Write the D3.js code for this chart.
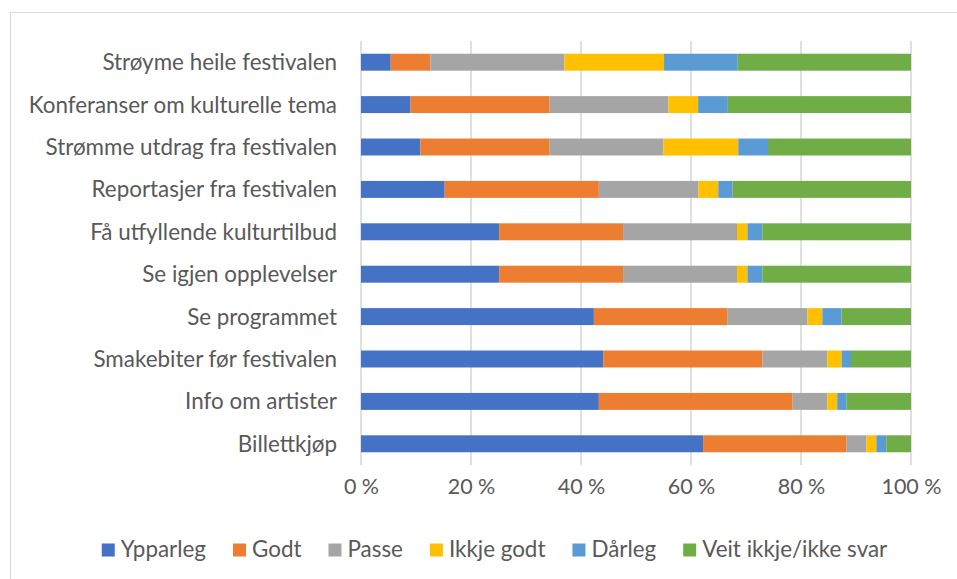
<!DOCTYPE html>
<html>
<head>
<meta charset="utf-8">
<script src="https://cdn.jsdelivr.net/npm/d3@7"></script>
<style>
  html, body { margin: 0; padding: 0; background: #fff; }
  svg text { font-family: Lato, "Open Sans", sans-serif; fill: #595959; }
</style>
</head>
<body>
<svg id="chart" width="957" height="579"></svg>
<script>
'use strict'

// categories, top to bottom
const categories = [
  'Strøyme heile festivalen',
  'Konferanser om kulturelle tema',
  'Strømme utdrag fra festivalen',
  'Reportasjer fra festivalen',
  'Få utfyllende kulturtilbud',
  'Se igjen opplevelser',
  'Se programmet',
  'Smakebiter før festivalen',
  'Info om artister',
  'Billettkjøp'
]

const seriesNames = ['Ypparleg', 'Godt', 'Passe', 'Ikkje godt', 'Dårleg', 'Veit ikkje/ikke svar']

// percent per category (same order as categories)
const ypparleg = [5.4, 9.0, 10.8, 15.2, 25.1, 25.1, 42.3, 44.0, 43.2, 62.2]
const godt = [7.2, 25.3, 23.5, 28.0, 22.5, 22.5, 24.3, 28.9, 35.2, 26.1]
const passe = [24.4, 21.6, 20.7, 18.1, 20.7, 20.7, 14.5, 11.8, 6.3, 3.6]
const ikkjeGodt = [18.1, 5.4, 13.6, 3.6, 1.9, 1.9, 2.7, 2.6, 1.8, 1.8]
const daarleg = [13.4, 5.4, 5.4, 2.6, 2.7, 2.7, 3.5, 1.7, 1.7, 1.8]
const veitIkkje = [31.5, 33.3, 26.0, 32.4, 27.0, 27.0, 12.6, 10.9, 11.7, 4.5]

const tickValues = [0, 0.2, 0.4, 0.6, 0.8, 1]

const colors = ['#4472c4', '#ed7d31', '#a5a5a5', '#ffc000', '#5b9bd5', '#70ad47']

// build table for d3.stack
const seriesValues = [ypparleg, godt, passe, ikkjeGodt, daarleg, veitIkkje]
const table = categories.map((c, i) => {
  const row = { category: c }
  seriesNames.forEach((s, j) => { row[s] = seriesValues[j][i] })
  return row
})

const stacked = d3.stack()
  .keys(seriesNames)
  .offset(d3.stackOffsetExpand)(table)

const svg = d3.select('#chart')
const fontSize = 22.4
const axisFontSize = 21.5

// chart area border (runs off the right and bottom of the picture)
svg.append('rect')
  .attr('x', 10.5).attr('y', 12.5)
  .attr('width', 1000).attr('height', 700)
  .attr('fill', 'none')
  .attr('stroke', '#d9d9d9')
  .attr('stroke-width', 1)

const margin = { top: 41, left: 361, right: 911, bottom: 465 }

const x = d3.scaleLinear().domain([0, 1]).range([margin.left, margin.right])
const y = d3.scaleBand()
  .domain(categories)
  .range([margin.top, margin.bottom])
  .paddingInner(0.6)
  .paddingOuter(0.3)

// gridlines
svg.append('g')
  .selectAll('line')
  .data(tickValues)
  .join('line')
  .attr('x1', d => x(d)).attr('x2', d => x(d))
  .attr('y1', margin.top).attr('y2', margin.bottom)
  .attr('stroke', '#d9d9d9')
  .attr('stroke-width', 1.6)

// bars
svg.append('g')
  .selectAll('g')
  .data(stacked)
  .join('g')
  .attr('fill', (d, i) => colors[i])
  .selectAll('rect')
  .data(d => d)
  .join('rect')
  .attr('x', d => x(d[0]))
  .attr('width', d => x(d[1]) - x(d[0]))
  .attr('y', d => y(d.data.category))
  .attr('height', y.bandwidth())

// category labels
svg.append('g')
  .selectAll('text')
  .data(categories)
  .join('text')
  .attr('x', 337)
  .attr('y', d => y(d) + y.bandwidth() / 2)
  .attr('dy', '0.36em')
  .attr('text-anchor', 'end')
  .style('font-size', fontSize + 'px')
  .text(d => d)

// x axis labels
const xAxis = d3.axisBottom(x)
  .tickValues(tickValues)
  .tickSize(0)
  .tickPadding(0)
  .tickFormat(d => Math.round(d * 100) + '\u00a0%')

const gx = svg.append('g')
  .attr('transform', 'translate(0,' + 494 + ')')
  .call(xAxis)
gx.select('.domain').remove()
gx.selectAll('text')
  .attr('y', 0).attr('dy', 0)
  .attr('fill', '#595959')
  .style('font-family', 'Lato, "Open Sans", sans-serif')
  .style('font-size', axisFontSize + 'px')

// legend
const legend = svg.append('g')
const items = legend.selectAll('g')
  .data(seriesNames)
  .join('g')
items.append('rect')
  .attr('width', 13).attr('height', 13)
  .attr('y', -13)
  .attr('fill', (d, i) => colors[i])
items.append('text')
  .attr('x', 19)
  .attr('y', 0)
  .style('font-size', fontSize + 'px')
  .text(d => d)

let pos = 0
const gap = 27
items.each(function () {
  const w = d3.select(this).select('text').node().getComputedTextLength()
  this.__x = pos
  pos += 19 + w + gap
})
const total = pos - gap
const startX = 494.5 - total / 2
items.attr('transform', function () { return 'translate(' + (startX + this.__x) + ',' + 556.5 + ')' })
</script>
</body>
</html>
